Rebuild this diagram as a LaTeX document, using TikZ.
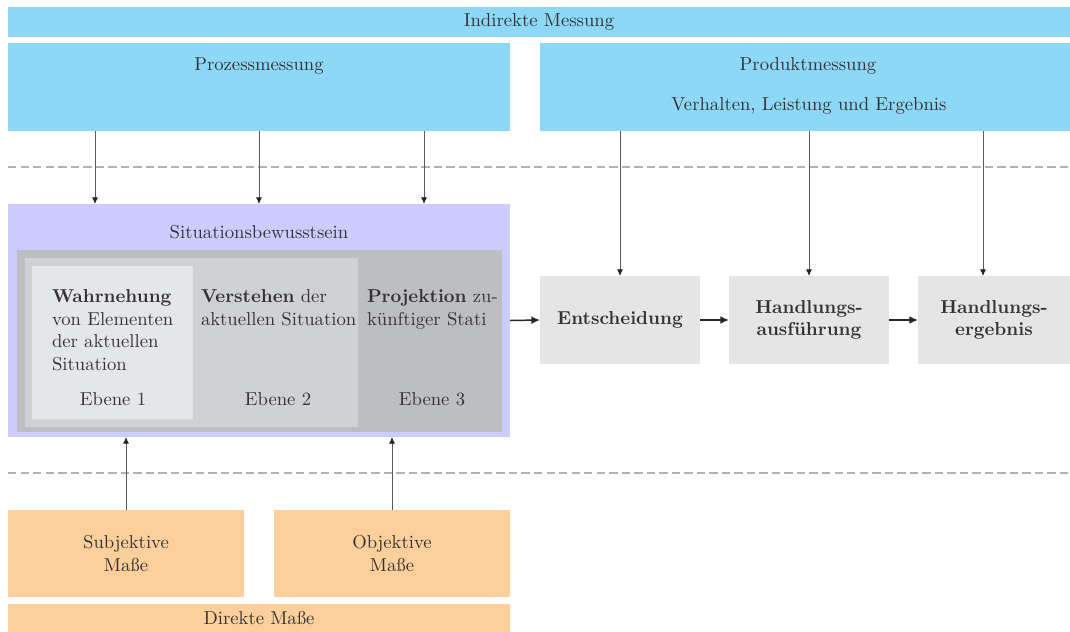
\documentclass[tikz,border=0pt]{standalone}
\usetikzlibrary{fit,arrows.meta}
\definecolor{cblue}{RGB}{141,216,246}
\definecolor{clav}{RGB}{204,204,255}
\definecolor{cgthree}{RGB}{189,190,194}
\definecolor{cgtwo}{RGB}{208,209,212}
\definecolor{cgone}{RGB}{229,230,233}
\definecolor{cbox}{RGB}{229,229,229}
\definecolor{corange}{RGB}{252,207,155}
\definecolor{ctext}{RGB}{51,51,51}
\definecolor{cdash}{RGB}{178,178,178}
\begin{document}
\begin{tikzpicture}[x=0.535pt,y=-0.535pt,
  area/.style={inner sep=0pt, outer sep=0pt, draw=none},
  lbl/.style={inner sep=0pt, outer sep=0pt, text=ctext, align=center},
  downarr/.style={draw={rgb,255:red,90;green,90;blue,90}, line width=0.4pt, -{Latex[length=3.6pt,width=3.2pt,color=black!85]}},
  flowarr/.style={draw=black!85, line width=0.8pt, -{Latex[length=4.6pt,width=4.2pt]}},
  sepline/.style={draw=cdash, line width=0.8pt, dash pattern=on 4.5pt off 2.2pt}]
\useasboundingbox (0,0) rectangle (1070,632);
% top blue
\node[area, fill=cblue, fit={(8,7)(1070,37)}] (ind) {};
\node[lbl] (indt) at (ind.center) {Indirekte Messung};
\node[area, fill=cblue, fit={(8,43)(510,131)}] (proz) {};
\node[lbl] (prozt) at (259,66) {Prozessmessung};
\node[area, fill=cblue, fit={(540,43)(1070,131)}] (prod) {};
\node[lbl] (prodt) at (808,66) {Produktmessung};
\node[lbl] (prodv) at (809,106) {Verhalten, Leistung und Ergebnis};
% separators
\coordinate (d1l) at (8,167); \coordinate (d1r) at (1070,167);
\coordinate (d2l) at (8,473); \coordinate (d2r) at (1070,473);
\draw[sepline] (d1l) -- (d1r);
\draw[sepline] (d2l) -- (d2r);
% situation awareness
\node[area, fill=clav, fit={(8,204)(510,437)}] (sa) {};
\node[lbl] (sat) at (259,232) {Situationsbewusstsein};
\node[area, fill=cgthree, fit={(17,250)(502,432)}] (e3) {};
\node[area, fill=cgtwo, fit={(25,258)(358,427)}] (e2) {};
\node[area, fill=cgone, fit={(32,266)(193,419)}] (e1) {};
\node[lbl, anchor=north west, align=left] (e1t) at (52,290) {\textbf{Wahrnehung}\\von Elementen\\der aktuellen\\Situation};
\node[lbl, anchor=north west, align=left] (e2t) at (201,290) {\textbf{Verstehen} der\\aktuellen Situation};
\node[lbl, anchor=north west, align=left] (e3t) at (367,290) {\textbf{Projektion} zu-\\künftiger Stati};
\node[lbl] (e1l) at (113,399) {Ebene 1};
\node[lbl] (e2l) at (278,399) {Ebene 2};
\node[lbl] (e3l) at (432,399) {Ebene 3};
% process boxes
\node[area, fill=cbox, fit={(540,276)(700,364)}] (ent) {};
\node[lbl] (entt) at (ent.center) {\textbf{Entscheidung}};
\node[area, fill=cbox, fit={(729,276)(889,364)}] (hand) {};
\node[lbl] (handt) at (hand.center) {\textbf{Handlungs-}\\\textbf{ausführung}};
\node[area, fill=cbox, fit={(918,276)(1070,364)}] (erg) {};
\node[lbl] (ergt) at (erg.center) {\textbf{Handlungs-}\\\textbf{ergebnis}};
% direct measures
\node[area, fill=corange, fit={(8,510)(244,597)}] (subj) {};
\node[lbl] (subjt) at (subj.center) {Subjektive\\Maße};
\node[area, fill=corange, fit={(274,510)(510,597)}] (obj) {};
\node[lbl] (objt) at (obj.center) {Objektive\\Maße};
\node[area, fill=corange, fit={(8,604)(510,632)}] (dir) {};
\node[lbl] (dirt) at (dir.center) {Direkte Maße};
% arrow columns
\coordinate (a1) at (95,0); \coordinate (a2) at (259,0); \coordinate (a3) at (424,0);
\coordinate (b1) at (620,0); \coordinate (b2) at (809,0); \coordinate (b3) at (983,0);
\coordinate (c1) at (126,0); \coordinate (c2) at (392,0);
\draw[downarr] (proz.south -| a1) -- (sa.north -| a1);
\draw[downarr] (proz.south -| a2) -- (sa.north -| a2);
\draw[downarr] (proz.south -| a3) -- (sa.north -| a3);
\draw[downarr] (prod.south -| b1) -- (ent.north -| b1);
\draw[downarr] (prod.south -| b2) -- (hand.north -| b2);
\draw[downarr] (prod.south -| b3) -- (erg.north -| b3);
\draw[downarr] (subj.north -| c1) -- (sa.south -| c1);
\draw[downarr] (obj.north -| c2) -- (sa.south -| c2);
\draw[flowarr] (sa.east) -- (ent.west);
\draw[flowarr] (ent.east) -- (hand.west);
\draw[flowarr] (hand.east) -- (erg.west);
\end{tikzpicture}
\end{document}
